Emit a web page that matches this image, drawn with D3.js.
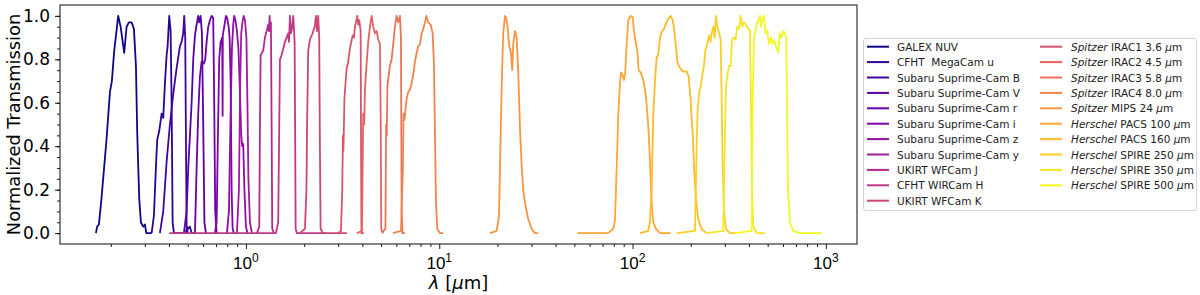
<!DOCTYPE html>
<html>
<head>
<meta charset="utf-8">
<script src="https://cdn.jsdelivr.net/npm/d3@7"></script>
<style>
  body { margin: 0; background: #fff; }
  svg { font-family: "DejaVu Sans", sans-serif; }
</style>
</head>
<body>
<svg id="chart" width="1200" height="295"></svg>
<script>
// filter transmission curves, [wavelength in micron, normalized transmission]
var galexNUV = [[0.1675,0],[0.170,0.03],[0.1736,0.04],[0.179,0.16],[0.190,0.43],[0.198,0.65],[0.2026,0.70],[0.2083,0.84],[0.2185,1.0],[0.2248,0.95],[0.2346,0.83],[0.2414,0.95],[0.2481,0.97],[0.2563,0.97],[0.2634,0.94],[0.2698,0.77],[0.274,0.46],[0.2805,0.16],[0.2862,0.05],[0.2942,0.03],[0.3003,0.04],[0.3052,0],[0.3252,0]];
var cfhtU = [[0.3252,0],[0.3342,0.08],[0.3422,0.3],[0.3476,0.43],[0.356,0.47],[0.3664,0.55],[0.3735,0.53],[0.3811,0.69],[0.3889,0.82],[0.3936,0.86],[0.4011,1.0],[0.4078,0.93],[0.4127,0.6],[0.4177,0.05],[0.4242,0],[0.4894,0],[0.4953,0.03],[0.503,0.02],[0.5133,0.03],[0.5238,0],[0.5449,0]];
var subaruB = [[0.359,0],[0.3735,0.1],[0.3889,0.33],[0.4044,0.5],[0.4206,0.64],[0.438,0.76],[0.4555,0.86],[0.4648,0.88],[0.4738,0.92],[0.4795,1.0],[0.4853,0.9],[0.4894,0.45],[0.4934,0.03],[0.5011,0]];
var subaruV = [[0.4778,0],[0.4934,0.1],[0.503,0.3],[0.5238,0.6],[0.5339,0.8],[0.5449,0.91],[0.5559,0.96],[0.5666,1.0],[0.5734,0.97],[0.583,1.0],[0.5922,0.92],[0.6013,0.5],[0.61,0.05],[0.621,0]];
var subaruR = [[0.5449,0],[0.5559,0.3],[0.5666,0.55],[0.5781,0.72],[0.5899,0.79],[0.6063,0.78],[0.6158,0.8],[0.6262,0.88],[0.6382,0.95],[0.6513,0.98],[0.6647,1.0],[0.6774,0.99],[0.6855,0.6],[0.6938,0.1],[0.7054,0]];
var subaruI = [[0.6912,0],[0.7054,0.05],[0.7164,0.45],[0.7275,0.8],[0.7397,0.88],[0.7539,0.9],[0.7576,0.54],[0.759,0.91],[0.7722,0.95],[0.788,1.0],[0.8004,0.99],[0.8139,0.95],[0.8237,0.9],[0.8333,0.7],[0.8433,0.2],[0.8535,0.02],[0.8667,0]];
var subaruZ = [[0.7976,0],[0.8167,0.1],[0.8333,0.55],[0.8466,0.85],[0.8596,0.96],[0.87,1.0],[0.8826,0.98],[0.8983,0.93],[0.9146,0.85],[0.9311,0.65],[0.9456,0.45],[0.957,0.4],[0.9683,0.41],[0.9822,0.2],[1.0,0.03],[1.018,0]];
var subaruY = [[0.8983,0],[0.92,0.2],[0.9344,0.7],[0.9456,0.92],[0.9592,0.97],[0.973,1.0],[0.9881,0.98],[1.006,0.9],[1.018,0.6],[1.03,0.25],[1.049,0.05],[1.074,0]];
var ukirtJ = [[1.14,0],[1.172,0.03],[1.181,0.45],[1.191,0.82],[1.229,0.84],[1.254,0.9],[1.28,0.93],[1.304,0.96],[1.315,0.93],[1.326,1.0],[1.336,0.93],[1.347,0.97],[1.358,0.5],[1.368,0.02],[1.396,0]];
var cfhtH = [[0.401,0],[1.43,0],[1.469,0.05],[1.487,0.5],[1.5,0.8],[1.53,0.82],[1.56,0.85],[1.592,0.88],[1.624,0.9],[1.655,0.92],[1.67,0.88],[1.689,1.0],[1.709,0.92],[1.73,0.94],[1.757,1.0],[1.786,0.88],[1.799,0.4],[1.808,0.02],[1.835,0],[2.6,0]];
var ukirtK = [[1.9,0],[2.02,0.02],[2.056,0.2],[2.075,0.54],[2.1,0.84],[2.143,0.89],[2.213,0.92],[2.275,0.955],[2.302,1.0],[2.33,0.93],[2.366,1.0],[2.394,0.9],[2.414,0.4],[2.434,0.02],[2.502,0],[3.33,0]];
var irac1 = [[2.99,0],[3.10,0.01],[3.15,0.2],[3.176,0.45],[3.195,0.38],[3.233,0.62],[3.319,0.76],[3.371,0.78],[3.452,0.85],[3.565,0.91],[3.621,0.9],[3.664,0.95],[3.766,1.0],[3.811,0.96],[3.857,0.98],[3.922,0.93],[3.945,0.3],[3.959,0],[4.078,0]];
var irac2 = [[3.752,0],[3.983,0.01],[4.016,0.3],[4.045,0.55],[4.093,0.5],[4.127,0.66],[4.211,0.78],[4.292,0.88],[4.38,0.95],[4.47,1.0],[4.556,0.95],[4.649,0.92],[4.744,0.93],[4.836,0.89],[4.935,0.87],[4.983,0.5],[5.012,0.02],[5.114,0]];
var irac3 = [[5.053,0],[5.268,0.02],[5.312,0.5],[5.35,0.45],[5.395,0.68],[5.559,0.77],[5.673,0.8],[5.781,0.87],[5.899,0.95],[6.02,1.0],[6.136,0.97],[6.262,1.0],[6.338,0.9],[6.39,0.1],[6.451,0],[6.647,0]];
var irac4 = [[5.762,0],[6.338,0.01],[6.49,0.3],[6.529,0.55],[6.607,0.52],[6.783,0.62],[6.913,0.65],[7.055,0.66],[7.2,0.69],[7.339,0.73],[7.489,0.79],[7.642,0.83],[7.79,0.86],[7.949,0.87],[8.11,0.92],[8.266,0.94],[8.435,0.97],[8.588,1.0],[8.773,0.97],[9.028,0.96],[9.245,0.92],[9.389,0.78],[9.502,0.47],[9.614,0.15],[9.765,0.02],[10.08,0],[10.49,0]];
var mips24 = [[18.3,0],[19.82,0.01],[20.37,0.08],[20.73,0.4],[20.98,0.62],[21.18,0.77],[21.43,0.92],[21.87,1.0],[22.21,0.99],[22.58,0.95],[23.02,0.86],[23.49,0.83],[23.85,0.75],[24.14,0.87],[24.64,0.93],[25.14,0.9],[25.63,0.74],[26.15,0.49],[26.69,0.31],[27.2,0.2],[27.76,0.14],[28.87,0.065],[30.06,0.02],[31.26,0],[32.52,0]];
var pacs100 = [[51.74,0],[74.6,0],[79.47,0.02],[81.1,0.06],[82.77,0.3],[84.35,0.54],[86.08,0.69],[87.1,0.74],[88.46,0.73],[90.27,0.705],[91.67,0.74],[93.22,0.87],[95.0,0.98],[97.74,1.0],[100.1,0.995],[101.7,0.93],[104.1,0.87],[105.8,0.84],[107.5,0.75],[110.1,0.74],[113.6,0.705],[117.3,0.63],[120.5,0.5],[123.0,0.34],[125.5,0.14],[128.0,0.05],[132.2,0.02],[138.7,0],[157.4,0]];
var pacs160 = [[109.2,0],[120.5,0.01],[123.0,0.05],[125.5,0.2],[128.0,0.54],[130.6,0.7],[133.3,0.81],[135.8,0.82],[138.7,0.9],[141.4,0.926],[145.4,0.94],[148.9,0.964],[153.0,0.987],[157.4,1.0],[161.3,0.98],[164.3,0.934],[167.7,0.857],[170.3,0.79],[174.4,0.766],[179.5,0.75],[184.5,0.743],[190.5,0.745],[195.1,0.72],[199.8,0.61],[204.6,0.46],[208.6,0.28],[212.8,0.16],[218.8,0.064],[227.8,0.018],[241.7,0]];
var spire250 = [[169.1,0],[210.3,0.01],[214.6,0.4],[217.2,0.57],[221.4,0.65],[225.1,0.67],[230.5,0.74],[234.1,0.77],[237.8,0.84],[243.5,0.87],[249.4,0.91],[253,0.88],[256.6,0.92],[261.6,0.95],[265.9,0.9],[270.1,1.0],[274.3,0.95],[280.9,0.92],[285.6,0.89],[289.1,0.61],[292.5,0.31],[297.1,0.1],[304.3,0.02],[319.1,0],[338.7,0]];
var spire350 = [[241.7,0],[294.6,0.01],[300.6,0.46],[304.3,0.67],[309.0,0.72],[315.3,0.77],[321.7,0.77],[326.7,0.89],[334.6,0.9],[341.5,0.89],[348.1,0.95],[355.2,0.94],[362.4,1.0],[369.4,0.95],[376.9,0.97],[386.0,0.96],[396.7,0.94],[404.9,0.935],[409.7,0.61],[414.7,0.21],[421.1,0.03],[438.5,0],[484.1,0]];
var spire500 = [[338.7,0],[413.1,0.01],[418.1,0.61],[424.6,0.89],[431.3,0.93],[438.5,0.96],[447.0,0.98],[456.1,1.0],[461.6,0.95],[468.8,0.98],[478.4,1.0],[488.2,0.92],[497.6,0.93],[507.7,0.87],[518.1,0.9],[528.1,0.87],[538.9,0.89],[551.9,0.86],[567.2,0.83],[578.8,0.92],[590.6,0.9],[602.0,0.93],[614.3,0.92],[623.8,0.9],[629.0,0.61],[636.6,0.21],[652.0,0.05],[678.2,0.01],[734.5,0],[951.4,0]];

var curves = [galexNUV, cfhtU, subaruB, subaruV, subaruR, subaruI, subaruZ, subaruY, ukirtJ, cfhtH, ukirtK,
              irac1, irac2, irac3, irac4, mips24, pacs100, pacs160, spire250, spire350, spire500];

// legend labels: [italic part, plain part]
var labels = [
    ["", "GALEX NUV"], ["", "CFHT  MegaCam u"],
    ["", "Subaru Suprime-Cam B"], ["", "Subaru Suprime-Cam V"], ["", "Subaru Suprime-Cam r"],
    ["", "Subaru Suprime-Cam i"], ["", "Subaru Suprime-Cam z"], ["", "Subaru Suprime-Cam y"],
    ["", "UKIRT WFCam J"], ["", "CFHT WIRCam H"], ["", "UKIRT WFCam K"],
    ["Spitzer", " IRAC1 3.6 μm"], ["Spitzer", " IRAC2 4.5 μm"], ["Spitzer", " IRAC3 5.8 μm"],
    ["Spitzer", " IRAC4 8.0 μm"], ["Spitzer", " MIPS 24 μm"],
    ["Herschel", " PACS 100 μm"], ["Herschel", " PACS 160 μm"],
    ["Herschel", " SPIRE 250 μm"], ["Herschel", " SPIRE 350 μm"], ["Herschel", " SPIRE 500 μm"]
];

var xMajor = [1, 10, 100, 1000];
var xMinor = [0.2,0.3,0.4,0.5,0.6,0.7,0.8,0.9, 2,3,4,5,6,7,8,9, 20,30,40,50,60,70,80,90, 200,300,400,500,600,700,800,900];
var yMajor = [0, 0.2, 0.4, 0.6, 0.8, 1.0];

var plot = {left: 60, right: 857, top: 5, bottom: 244};

var svg = d3.select("#chart");

var x = d3.scaleLog().domain([0.1092, 1449]).range([plot.left, plot.right]);
var y = d3.scaleLinear().domain([-0.05, 1.05]).range([plot.bottom, plot.top]);

var color = function(i) { return d3.interpolatePlasma(i / (curves.length - 1)); };

// curves
var line = d3.line()
    .x(function(d) { return x(d[0]); })
    .y(function(d) { return y(d[1]); });

svg.append("g").selectAll("path")
    .data(curves)
    .enter().append("path")
    .attr("d", line)
    .attr("fill", "none")
    .attr("stroke", function(d, i) { return color(i); })
    .attr("stroke-width", 1.8)
    .attr("stroke-linejoin", "round");

// x axis ticks
var gx = svg.append("g").attr("transform", "translate(0," + plot.bottom + ")");
gx.call(d3.axisBottom(x).tickValues(xMajor).tickSize(5).tickFormat(""));
gx.append("g").call(d3.axisBottom(x).tickValues(xMinor).tickSize(3).tickFormat(""));
gx.selectAll(".domain").remove();
gx.selectAll("line").attr("stroke", "#000").attr("stroke-width", 0.9);

xMajor.forEach(function(v) {
    var t = gx.append("text")
        .attr("x", x(v))
        .attr("y", 25)
        .attr("text-anchor", "middle")
        .attr("fill", "#000")
        .style("font-size", "17px");
    t.append("tspan").text("10");
    t.append("tspan").attr("dy", -7.5).style("font-size", "12px").text(Math.round(Math.log10(v)));
});

// y axis ticks
var gy = svg.append("g").attr("transform", "translate(" + plot.left + ",0)");
gy.call(d3.axisLeft(y).tickValues(yMajor).tickSize(5).tickPadding(5)
    .tickFormat(d3.format(".1f")));
gy.append("g").call(d3.axisLeft(y).tickValues(d3.range(0, 1.0001, 0.05)).tickSize(3).tickFormat(""));
gy.selectAll(".domain").remove();
gy.selectAll("line").attr("stroke", "#000").attr("stroke-width", 0.9);
gy.selectAll("text").style("font-size", "17px").attr("fill", "#000")
    .style("font-family", "DejaVu Sans");

// frame
svg.append("rect")
    .attr("x", plot.left).attr("y", plot.top)
    .attr("width", plot.right - plot.left).attr("height", plot.bottom - plot.top)
    .attr("fill", "none").attr("stroke", "#222").attr("stroke-width", 1.1);

// axis labels
var xl = svg.append("text")
    .attr("x", (plot.left + plot.right) / 2)
    .attr("y", 289)
    .attr("text-anchor", "middle")
    .style("font-size", "18px");
xl.append("tspan").style("font-style", "italic").text("λ");
xl.append("tspan").text(" [");
xl.append("tspan").style("font-style", "italic").text("μ");
xl.append("tspan").text("m]");

svg.append("text")
    .attr("transform", "translate(20," + ((plot.top + plot.bottom) / 2) + ") rotate(-90)")
    .attr("text-anchor", "middle")
    .style("font-size", "17.8px")
    .text("Normalized Transmission");

// legend
var legend = svg.append("g");
legend.append("rect")
    .attr("x", 863.5).attr("y", 38.5)
    .attr("width", 333).attr("height", 172)
    .attr("rx", 2.5)
    .attr("fill", "#fff").attr("fill-opacity", 0.8)
    .attr("stroke", "#d4d4d4").attr("stroke-width", 1);

labels.forEach(function(lab, i) {
    var col = i < 11 ? 0 : 1;
    var row = col === 0 ? i : i - 11;
    var lx = col === 0 ? 867 : 1040;
    var tx = col === 0 ? 897 : 1071;
    var ly = 46.7 + row * 15.4;

    legend.append("line")
        .attr("x1", lx).attr("x2", lx + 22)
        .attr("y1", ly).attr("y2", ly)
        .attr("stroke", color(i)).attr("stroke-width", 2);

    var t = legend.append("text")
        .attr("x", tx).attr("y", ly + 4)
        .attr("xml:space", "preserve")
        .style("white-space", "pre")
        .style("font-size", "10.5px")
        .attr("fill", "#222");
    if (lab[0]) t.append("tspan").style("font-style", "italic").text(lab[0]);
    var parts = lab[1].split("μ");
    t.append("tspan").text(parts[0]);
    if (parts.length > 1) {
        t.append("tspan").style("font-style", "italic").text("μ");
        t.append("tspan").text(parts[1]);
    }
});
</script>
</body>
</html>
